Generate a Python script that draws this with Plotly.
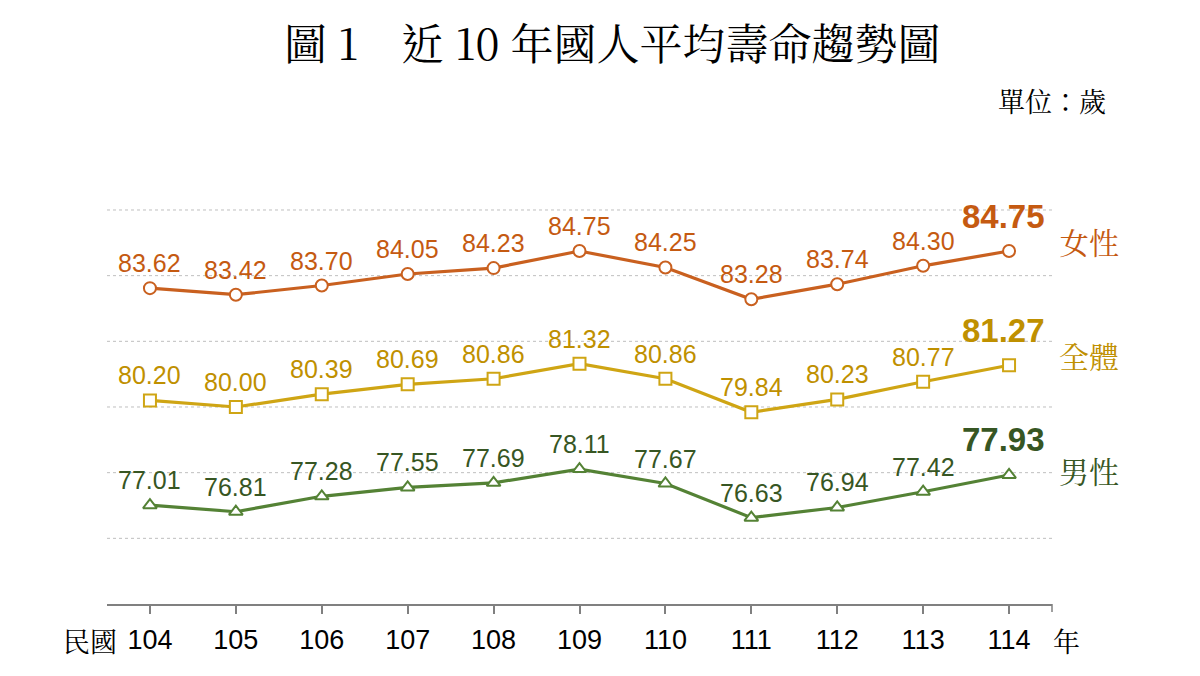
import plotly.graph_objects as go

years = [104, 105, 106, 107, 108, 109, 110, 111, 112, 113, 114]
female = [83.62, 83.42, 83.70, 84.05, 84.23, 84.75, 84.25, 83.28, 83.74, 84.30, 84.75]
total = [80.20, 80.00, 80.39, 80.69, 80.86, 81.32, 80.86, 79.84, 80.23, 80.77, 81.27]
male = [77.01, 76.81, 77.28, 77.55, 77.69, 78.11, 77.67, 76.63, 76.94, 77.42, 77.93]
grid_vals = [76, 78, 80, 82, 84, 86]

series = [
    # name, values, line colour, label colour, marker
    ("女性", female, "#C9601F", "#C55A11", "circle"),
    ("全體", total, "#CFA514", "#BF9000", "square"),
    ("男性", male, "#548235", "#375623", "triangle-up"),
]

cjk = "Noto Serif CJK TC, Noto Sans CJK TC, serif"
num = "Liberation Sans, Arial, sans-serif"

fig = go.Figure()
annotations = []

for name, vals, lc, tc, sym in series:
    fig.add_trace(go.Scatter(
        x=years, y=vals, mode="lines+markers", name=name,
        line=dict(color=lc, width=3.2),
        marker=dict(symbol=sym, size=12, color="white",
                    line=dict(color=lc, width=2)),
        showlegend=False, hoverinfo="x+y",
    ))
    for i, (yr, v) in enumerate(zip(years, vals)):
        last = i == len(years) - 1
        annotations.append(dict(
            x=yr, y=v, text=f"{v:.2f}", showarrow=False,
            xshift=-6 if last else 0, yshift=35 if last else 25,
            font=dict(family=num, size=33 if last else 25, color=tc,
                      weight="bold" if last else "normal"),
        ))
    # series name at the right end
    annotations.append(dict(
        x=years[-1], y=vals[-1], text=name, showarrow=False,
        xshift=80, yshift=10 if name != "男性" else 5,
        font=dict(family=cjk, size=30, color=tc),
    ))

# outer texts, placed in pixels from the plot area edges
annotations += [
    dict(xref="paper", yref="paper", x=0.5, y=1.0, xshift=32, yshift=168,
         text="圖 1　近 10 年國人平均壽命趨勢圖", showarrow=False,
         font=dict(family=cjk, size=43, color="black"), xanchor="center", yanchor="middle"),
    dict(xref="paper", yref="paper", x=1.0, y=1.0, xshift=56, yshift=109,
         text="單位：歲", showarrow=False,
         font=dict(family=cjk, size=27, color="black"), xanchor="right", yanchor="middle"),
    dict(xref="paper", yref="paper", x=0, y=0, xshift=12, yshift=-36,
         text="民國", showarrow=False,
         font=dict(family=cjk, size=27, color="black"), xanchor="right", yanchor="middle"),
    dict(xref="paper", yref="paper", x=1, y=0, xshift=-1, yshift=-36,
         text="年", showarrow=False,
         font=dict(family=cjk, size=27, color="black"), xanchor="left", yanchor="middle"),
]

# dotted gridlines drawn as shapes so the top one at 86 shows as well
shapes = [dict(type="line", xref="paper", yref="y", x0=0, x1=1, y0=g, y1=g, layer="below",
               line=dict(color="#BFBFBF", width=1, dash="dot")) for g in grid_vals]
shapes.append(dict(type="line", xref="paper", yref="paper", x0=1, x1=1, y0=0, y1=-0.02,
                   line=dict(color="#808080", width=1.5)))

fig.update_layout(
    width=1192, height=668,
    margin=dict(l=99, r=148, t=201, b=72),
    plot_bgcolor="white", paper_bgcolor="white",
    annotations=annotations,
    shapes=shapes,
    xaxis=dict(
        range=[103.5, 114.5], tickvals=years, ticktext=[str(y) for y in years],
        showgrid=False, zeroline=False, showline=True, linecolor="#808080", linewidth=2,
        ticks="outside", ticklen=8, tickcolor="#808080", tickwidth=1.5,
        tickfont=dict(family=num, size=27, color="black"), ticklabelstandoff=3,
    ),
    yaxis=dict(
        range=[74, 86.03], showticklabels=False, zeroline=False, showgrid=False,
    ),
)

fig.write_html("out.html")
